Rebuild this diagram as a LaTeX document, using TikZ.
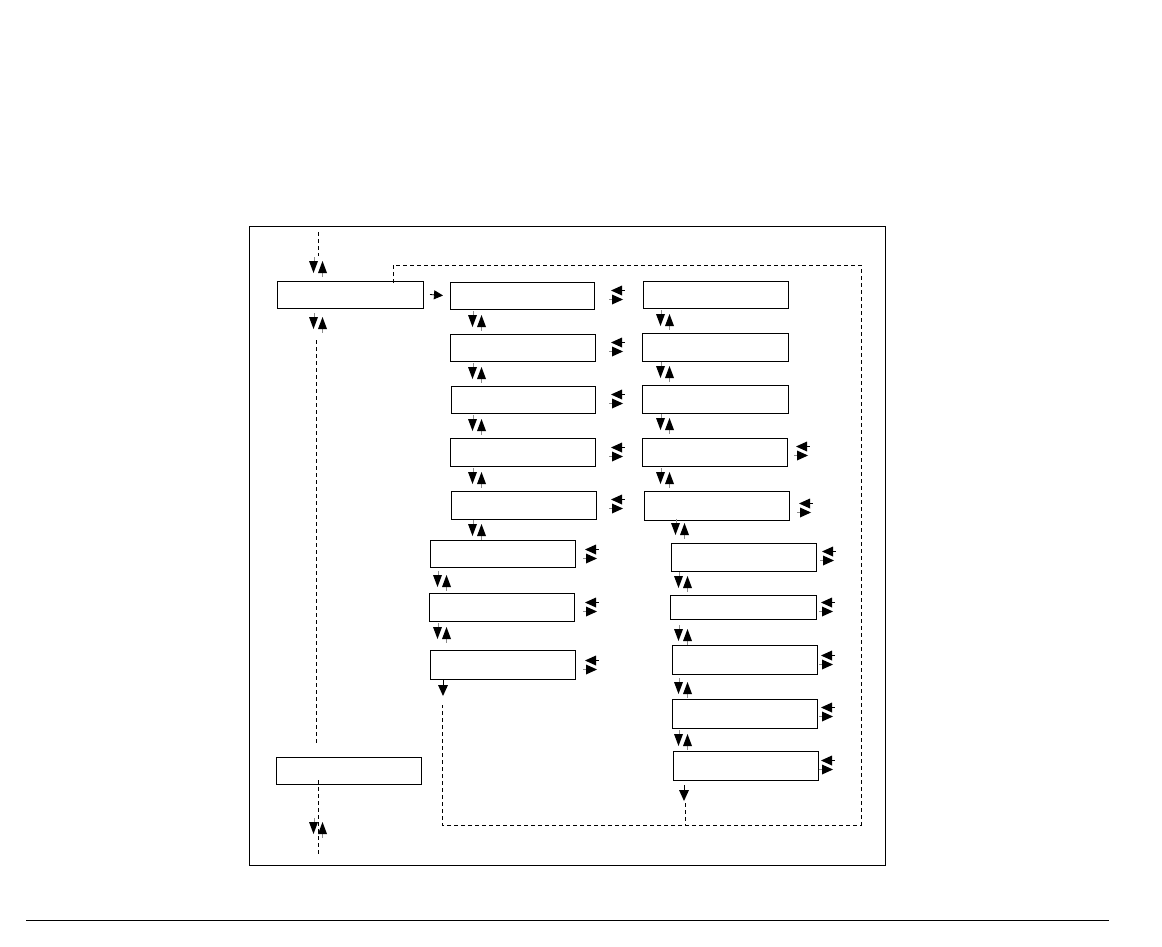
\documentclass[tikz,border=0pt]{standalone}
\usetikzlibrary{arrows.meta}
\tikzset{
  box/.style={draw, line width=1pt, anchor=north west, inner sep=0pt, outer sep=0pt},
  dashline/.style={line width=0.9pt, dash pattern=on 4pt off 3pt},
  stem/.style={line width=0.8pt, black!45},
  udpair/.pic={
    \draw[stem] (-3.5,-10) -- (-3.5,-2);
    \draw[stem] (4.5,2) -- (4.5,10);
    \fill (-9,-6) -- (0,-6) -- (-4.5,6) -- cycle;
    \fill (0,6) -- (9,6) -- (4.5,-6) -- cycle;
  },
  lrpair/.pic={
    \draw[line width=0.8pt] (1,-4.5) -- (8,-4.5);
    \draw[stem] (-8,4.5) -- (-1,4.5);
    \fill (-6,-4.5) -- (5,-9.5) -- (5,0.5) -- cycle;
    \fill (6,4.5) -- (-5,-0.5) -- (-5,9.5) -- cycle;
  },
  downone/.pic={
    \draw[line width=0.8pt] (0,-10) -- (0,-3);
    \fill (-5,-5) -- (5,-5) -- (0,6) -- cycle;
  }
}
\begin{document}
\begin{tikzpicture}[x=1pt,y=-1pt]
\useasboundingbox (0,0) rectangle (1162,947);
% outer frame and footer rule
\draw[line width=1pt] (249,226) rectangle (885,865);
\draw[line width=1pt] (26,920) -- (1109,920);

% boxes
\node[box, minimum width=146pt, minimum height=27pt] (A) at (277,281) {};
\node[box, minimum width=145pt, minimum height=27pt] (B) at (276,757) {};

\node[box, minimum width=144pt, minimum height=27pt] (c1) at (450,282) {};
\node[box, minimum width=145pt, minimum height=27pt] (c2) at (450,334) {};
\node[box, minimum width=144pt, minimum height=27pt] (c3) at (451,386) {};
\node[box, minimum width=145pt, minimum height=28pt] (c4) at (450,438) {};
\node[box, minimum width=145pt, minimum height=28pt] (c5) at (451,491) {};
\node[box, minimum width=145pt, minimum height=27pt] (c6) at (430,540) {};
\node[box, minimum width=145pt, minimum height=28pt] (c7) at (429,593) {};
\node[box, minimum width=145pt, minimum height=29pt] (c8) at (430,650) {};

\node[box, minimum width=145pt, minimum height=27pt] (d1) at (643,281) {};
\node[box, minimum width=146pt, minimum height=28pt] (d2) at (642,333) {};
\node[box, minimum width=146pt, minimum height=28pt] (d3) at (642,385) {};
\node[box, minimum width=145pt, minimum height=28pt] (d4) at (642,438) {};
\node[box, minimum width=145pt, minimum height=29pt] (d5) at (644,491) {};
\node[box, minimum width=145pt, minimum height=28pt] (d6) at (671,543) {};
\node[box, minimum width=146pt, minimum height=24pt] (d7) at (670,595) {};
\node[box, minimum width=145pt, minimum height=29pt] (d8) at (672,645) {};
\node[box, minimum width=145pt, minimum height=29pt] (d9) at (672,699) {};
\node[box, minimum width=145pt, minimum height=29pt] (d10) at (673,751) {};

% arrow from A to c1
\draw[line width=0.8pt, -{Triangle[length=9pt,width=9pt]}] ([xshift=7pt]A.east) -- ([xshift=-7pt]c1.west);

% up/down pairs
\foreach \p in {(318,267),(318,323),(318,828),
  (477,321),(477,373),(477,425),(477,478),(477,530),(442,581),(442,633),
  (665,320),(665,372),(665,424),(665,478),(680,529),(683,582),(683,635),(683,688),(683,740)}
  \pic at \p {udpair};
\pic at (443,690) {downone};
\pic at (684,795) {downone};

% left/right pairs
\foreach \p in {(617,295),(617,347),(617,399),(617,452),(617,504),(591,554),(591,607),(591,665),
  (802,451),(805,508),(828,556),(827,607),(827,660),(827,712),(827,765)}
  \pic at \p {lrpair};

% dashed connectors
\coordinate (topin) at (318,232);
\coordinate (topin2) at (318,256);
\draw[dashline] (topin) -- (topin2);
\coordinate (lup) at (316,340);
\coordinate (ldown) at (316,745);
\draw[dashline] (lup) -- (ldown);
\coordinate (bout) at (318,855);
\draw[dashline] ([yshift=4pt]B.south -| bout) -- (bout);

\coordinate (loopstart) at (393,283);
\coordinate (loopTL) at (393,265);
\coordinate (loopTR) at (861,265);
\coordinate (loopBR) at (861,825);
\coordinate (loopBL) at (442,825);
\coordinate (loopend) at (442,705);
\draw[dashline] (loopstart) -- (loopTL) -- (loopTR) -- (loopBR) -- (loopBL) -- (loopend);
\coordinate (dend) at (685,803);
\draw[dashline] (dend) -- (dend |- loopBR);
\end{tikzpicture}
\end{document}
